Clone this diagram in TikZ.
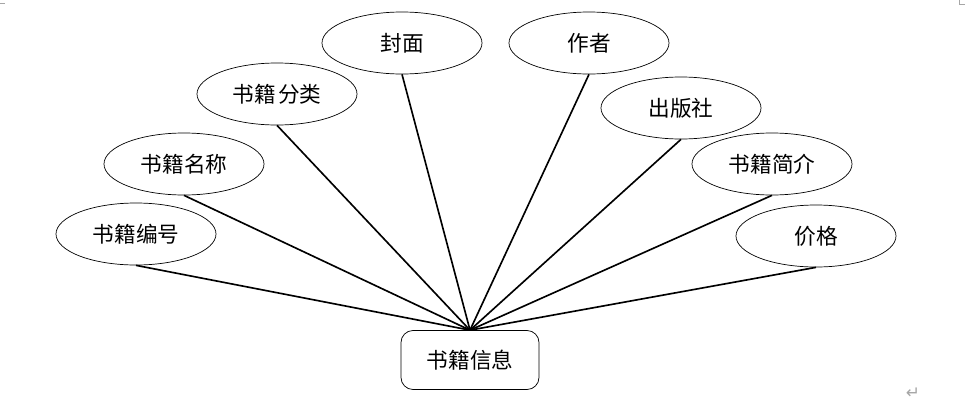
\documentclass[tikz,border=0pt]{standalone}
\usepackage{fontspec}
\usepackage{xcolor}
\usepackage{tikz}
\usetikzlibrary{shapes.geometric}
\newfontfamily\cjk{Noto Sans CJK SC}
\newfontfamily\symfont{DejaVu Sans}

\begin{document}
\begin{tikzpicture}[x=0.03cm, y=-0.03cm]
    \colorlet{markgray}{gray!70}
    \tikzset{
        attr/.style={ellipse, draw=black, line width=0.6pt, minimum width=4.8cm, minimum height=1.86cm, inner sep=0pt, font=\cjk\fontsize{18.5pt}{20pt}\selectfont},
        entity/.style={rectangle, rounded corners=0.36cm, draw=black, line width=0.6pt, minimum width=4.14cm, minimum height=1.77cm, font=\cjk\fontsize{18.5pt}{20pt}\selectfont},
        link/.style={black, line width=1.4pt}
    }
    \useasboundingbox (0,0) rectangle (966,417);

    % corner marks
    \draw[markgray, thin] (0,3) -- (5,3);
    \draw[markgray, thin] (959,4) -- (965,4) (959,0) -- (959,4);

    \node[entity] (info) at (470,360) {书籍信息};

    \foreach \name/\x/\y/\txt in {bh/136/234/书籍编号, mc/184/164/书籍名称, fl/277/94/书籍\hspace{0.12em}分类,
        fm/402/43/封面, zz/589/43/作者, cbs/681/108/出版社, jj/772/164/书籍简介, jg/816/236/价格}
        \node[attr] (\name) at (\x,\y) {\txt};

    \foreach \name in {bh, mc, fl, fm, zz, cbs, jj, jg}
        \draw[link] (\name.south) -- (info.north);

    \node[markgray, font=\symfont\Large] (ret) at (913,393) {↵};
\end{tikzpicture}
\end{document}
